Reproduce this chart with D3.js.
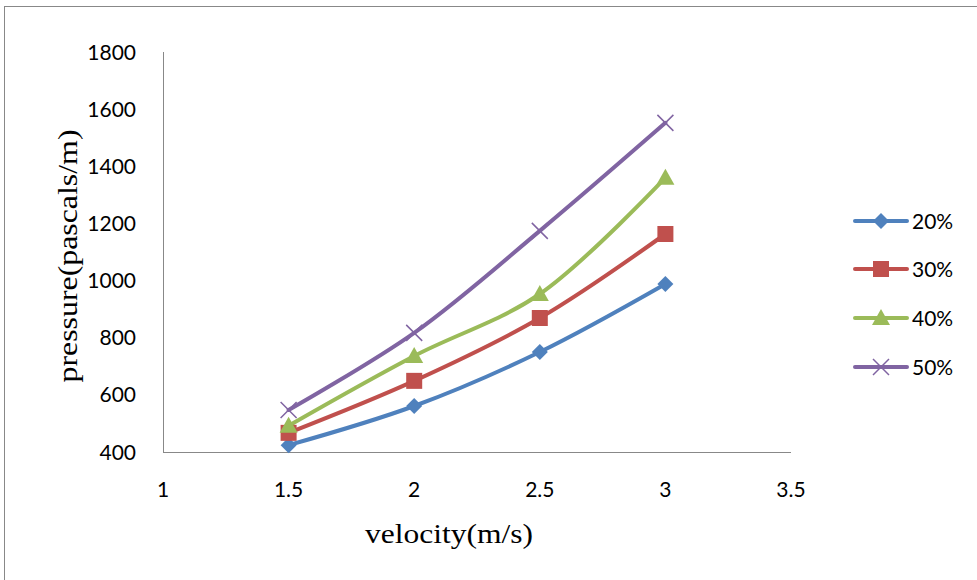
<!DOCTYPE html>
<html><head><meta charset="utf-8">
<script src="https://cdn.jsdelivr.net/npm/d3@7"></script>
<style>body{margin:0;background:#fff}svg{display:block}</style>
</head><body><svg id="c" width="977" height="580"></svg>
<script>
const velocities = [1.5, 2, 2.5, 3];
const seriesNames = ["20%", "30%", "40%", "50%"];
const s20 = [424, 561, 750, 988];
const s30 = [467, 649, 869, 1163];
const s40 = [492, 736, 953, 1360];
const s50 = [547, 817, 1174, 1552];
const xTicks = [1, 1.5, 2, 2.5, 3, 3.5];
const yTicks = [400, 600, 800, 1000, 1200, 1400, 1600, 1800];
const colors = ["#4F81BD", "#C0504D", "#9BBB59", "#8064A2"];
const symbols = ["diamond", "square", "triangle", "cross"];
const allSeries = [s20, s30, s40, s50];

const svg = d3.select("#c");
svg.append("rect").attr("x", 4.5).attr("y", 6.5).attr("width", 1000).attr("height", 600)
  .attr("fill", "#fff").attr("stroke", "#888").attr("stroke-width", 1);

const x = d3.scaleLinear().domain([1, 3.5]).range([163, 791]);
const y = d3.scaleLinear().domain([400, 1800]).range([452, 52]);

const tickFont = "Lato, 'Open Sans', sans-serif";
svg.append("line").attr("x1", 163.5).attr("x2", 163.5).attr("y1", y(1800)).attr("y2", y(400))
  .attr("stroke", "#888").attr("stroke-width", 1);
svg.append("line").attr("x1", 163).attr("x2", x(3.5)).attr("y1", 452.5).attr("y2", 452.5)
  .attr("stroke", "#888").attr("stroke-width", 1);

svg.selectAll(".yt").data(yTicks).enter().append("text")
  .attr("x", 136).attr("y", d => y(d)).attr("dy", "0.36em").attr("text-anchor", "end")
  .attr("font-family", tickFont).attr("font-size", 21).attr("fill", "#000").text(d => d);
svg.selectAll(".xt").data(xTicks).enter().append("text")
  .attr("x", d => x(d)).attr("y", 497).attr("text-anchor", "middle")
  .attr("font-family", tickFont).attr("font-size", 21).attr("fill", "#000").text(d => d);

svg.append("text").attr("transform", "translate(77,256) rotate(-90)").attr("text-anchor", "middle")
  .attr("font-family", "'Liberation Serif', 'Times New Roman', serif").attr("font-size", 27)
  .attr("textLength", 253).attr("lengthAdjust", "spacingAndGlyphs")
  .text("pressure(pascals/m)");
svg.append("text").attr("x", 449).attr("y", 543).attr("text-anchor", "middle")
  .attr("font-family", "'Liberation Serif', 'Times New Roman', serif").attr("font-size", 27)
  .attr("textLength", 168).attr("lengthAdjust", "spacingAndGlyphs")
  .text("velocity(m/s)");

function drawMarker(g, type, cx, cy, color) {
  if (type === "diamond") {
    g.append("path").attr("d", `M${cx},${cy-8}L${cx+8},${cy}L${cx},${cy+8}L${cx-8},${cy}Z`).attr("fill", color);
  } else if (type === "square") {
    g.append("rect").attr("x", cx-8).attr("y", cy-8).attr("width", 16).attr("height", 16).attr("fill", color);
  } else if (type === "triangle") {
    g.append("path").attr("d", `M${cx},${cy-9}L${cx+9},${cy+7}L${cx-9},${cy+7}Z`).attr("fill", color);
  } else {
    g.append("path").attr("d", `M${cx-8},${cy-8}L${cx+8},${cy+8}M${cx-8},${cy+8}L${cx+8},${cy-8}`)
      .attr("stroke", color).attr("stroke-width", 1.5).attr("fill", "none");
  }
}

const line = d3.line().x((d, i) => x(velocities[i])).y(d => y(d)).curve(d3.curveCatmullRom.alpha(0.5));
allSeries.forEach((s, k) => {
  svg.append("path").attr("d", line(s)).attr("fill", "none").attr("stroke", colors[k])
    .attr("stroke-width", 4).attr("stroke-linejoin", "round").attr("stroke-linecap", "round");
});
allSeries.forEach((s, k) => {
  const g = svg.append("g");
  s.forEach((v, i) => drawMarker(g, symbols[k], x(velocities[i]), y(v), colors[k]));
});

const legY = [221, 269, 318, 367];
seriesNames.forEach((n, k) => {
  const g = svg.append("g");
  g.append("line").attr("x1", 855).attr("x2", 907).attr("y1", legY[k]).attr("y2", legY[k])
    .attr("stroke", colors[k]).attr("stroke-width", 4).attr("stroke-linecap", "round");
  drawMarker(g, symbols[k], 881, legY[k], colors[k]);
  g.append("text").attr("x", 912).attr("y", legY[k]).attr("dy", "0.36em")
    .attr("font-family", tickFont).attr("font-size", 21).text(n);
});
</script></body></html>
